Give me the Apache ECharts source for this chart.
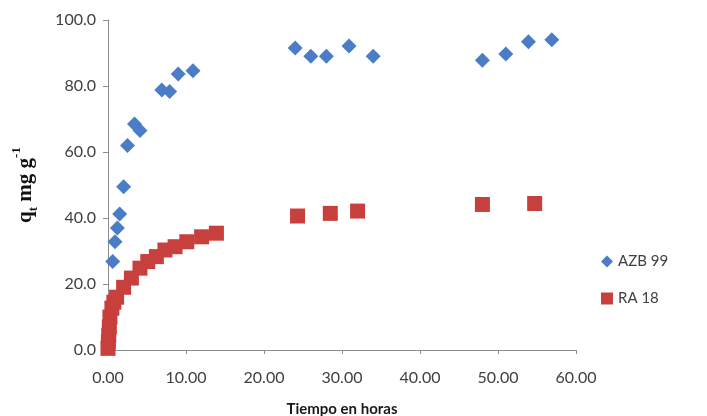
<!DOCTYPE html>
<html>
<head>
<meta charset="utf-8">
<script src="https://cdn.jsdelivr.net/npm/echarts@6/dist/echarts.min.js"></script>
<style>html,body{margin:0;padding:0;background:#fff}#c{width:707px;height:416px}</style>
</head>
<body>
<div id="c"></div>
<script>
const seriesNames = ['AZB 99', 'RA 18'];
const azbHours = [0.6, 0.9, 1.2, 1.5, 2.0, 2.5, 3.4, 4.1, 6.9, 7.9, 9.0, 10.9, 24.0, 26.0, 28.0, 30.9, 34.0, 48.0, 51.0, 53.9, 56.9];
const azbQt    = [26.8, 32.8, 37.0, 41.2, 49.5, 62.0, 68.5, 66.5, 78.8, 78.3, 83.6, 84.6, 91.5, 89.0, 89.0, 92.1, 89.0, 87.8, 89.7, 93.4, 94.0];
const raHours  = [0.0, 0.05, 0.1, 0.17, 0.25, 0.5, 0.75, 1.1, 2.0, 3.0, 4.1, 5.1, 6.2, 7.3, 8.6, 10.1, 12.0, 13.9, 24.3, 28.5, 32.0, 48.0, 54.7];
const raQt     = [0.5, 2.5, 4.5, 7.0, 10.0, 12.7, 14.5, 16.0, 19.0, 21.8, 24.8, 26.8, 28.3, 30.3, 31.3, 32.8, 34.3, 35.4, 40.6, 41.4, 42.1, 44.1, 44.4];
const xTicks = [0, 10, 20, 30, 40, 50, 60];
const yTicks = [0, 20, 40, 60, 80, 100];
const xTitle = 'Tiempo en horas';

const pair = (xs, ys) => xs.map((x, i) => [x, ys[i]]);
const chart = echarts.init(document.getElementById('c'));
const labelFont = 'Lato, "Open Sans", "Liberation Sans", sans-serif';
const serif = '"Liberation Serif", "DejaVu Serif", serif';
chart.setOption({
  backgroundColor: '#ffffff',
  animation: false,
  grid: { left: 108, right: 131, top: 20, bottom: 66, containLabel: false, outerBoundsMode: 'none' },
  legend: {
    orient: 'vertical', left: 596, top: 249, itemGap: 22,
    itemWidth: 12, itemHeight: 12,
    textStyle: { fontFamily: labelFont, fontSize: 15, color: '#404040' },
    data: [{ name: seriesNames[0], icon: 'diamond', itemStyle: { opacity: 1 } }, { name: seriesNames[1], icon: 'rect', itemStyle: { opacity: 1 } }]
  },
  xAxis: {
    type: 'value', min: xTicks[0], max: xTicks[xTicks.length - 1], interval: 10,
    name: xTitle, nameLocation: 'middle', nameGap: 52,
    nameTextStyle: { fontFamily: labelFont, fontWeight: 'bold', fontSize: 15, color: '#1a1a1a' },
    axisLine: { show: true, lineStyle: { color: '#8c8c8c', width: 1 } },
    axisTick: { show: true, inside: false, length: 4, lineStyle: { color: '#8c8c8c' } },
    axisLabel: { formatter: v => v.toFixed(2), fontFamily: labelFont, fontSize: 16, color: '#404040', margin: 20 },
    splitLine: { show: false }
  },
  yAxis: {
    type: 'value', min: yTicks[0], max: yTicks[yTicks.length - 1], interval: 20,
    name: '{q|q}{sub|t}{q| mg g}{sup|-1}', nameLocation: 'middle', nameGap: 72, nameRotate: 90,
    nameTextStyle: {
      rich: {
        q: { fontFamily: serif, fontWeight: 'bold', fontSize: 21, color: '#111', verticalAlign: 'bottom', lineHeight: 26 },
        sub: { fontFamily: serif, fontWeight: 'bold', fontSize: 13, color: '#111', verticalAlign: 'bottom', lineHeight: 20, padding: [0, 0, -4, 0] },
        sup: { fontFamily: serif, fontWeight: 'bold', fontSize: 13, color: '#111', verticalAlign: 'top', lineHeight: 20, padding: [0, 0, 9, 0] }
      }
    },
    axisLine: { show: true, lineStyle: { color: '#8c8c8c', width: 1 } },
    axisTick: { show: true, inside: false, length: 5, lineStyle: { color: '#8c8c8c' } },
    axisLabel: { formatter: v => v.toFixed(1), fontFamily: labelFont, fontSize: 16, color: '#404040', margin: 12 },
    splitLine: { show: false }
  },
  series: [
    {
      name: seriesNames[0], type: 'scatter', symbol: 'diamond', symbolSize: 15,
      itemStyle: { color: '#4a7dc6', opacity: 1 },
      data: pair(azbHours, azbQt)
    },
    {
      name: seriesNames[1], type: 'scatter', symbol: 'rect', symbolSize: 15,
      itemStyle: { color: '#c8403d', opacity: 1 },
      data: pair(raHours, raQt)
    }
  ]
});
</script>
</body>
</html>
